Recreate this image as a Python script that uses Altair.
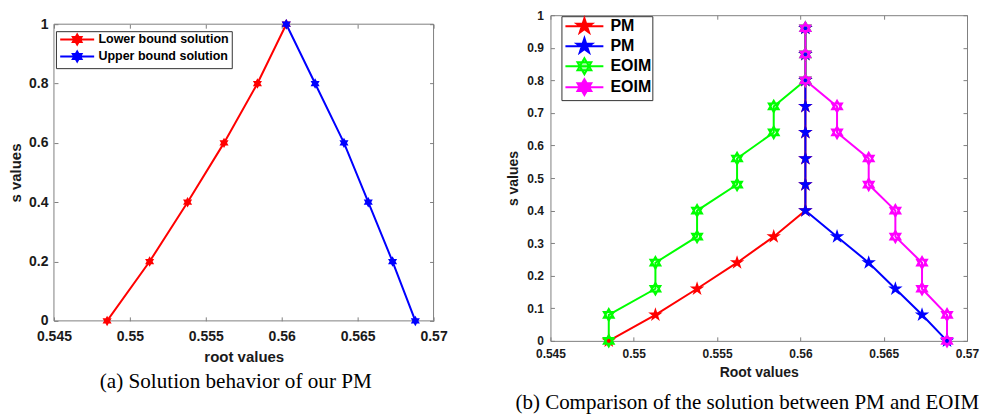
import altair as alt
import numpy as np
import pandas as pd

# ---------------- panel (a) data ----------------
a_series = ["Lower bound solution", "Upper bound solution"]
a_lower_root = [0.5485, 0.5513, 0.5538, 0.5562, 0.5584, 0.5603]
a_lower_s = [0.0, 0.2, 0.4, 0.6, 0.8, 1.0]
a_upper_root = [0.5603, 0.5622, 0.5641, 0.5657, 0.5673, 0.5688]
a_upper_s = [1.0, 0.8, 0.6, 0.4, 0.2, 0.0]

# ---------------- panel (b) data ----------------
b_series = ["PM lower", "PM upper", "EOIM lower", "EOIM upper"]
b_pm_lower_root = [0.5485, 0.5513, 0.5538, 0.5562, 0.5584, 0.5603, 0.5603,
                   0.5603, 0.5603, 0.5603, 0.5603, 0.5603, 0.5603]
b_pm_lower_s = [0.0, 0.08, 0.16, 0.24, 0.32, 0.40, 0.48, 0.56, 0.64, 0.72, 0.80, 0.88, 0.96]
b_pm_upper_root = [0.5603, 0.5603, 0.5603, 0.5603, 0.5603, 0.5603, 0.5603,
                   0.5603, 0.5622, 0.5641, 0.5657, 0.5673, 0.5688]
b_pm_upper_s = [0.96, 0.88, 0.80, 0.72, 0.64, 0.56, 0.48, 0.40, 0.32, 0.24, 0.16, 0.08, 0.0]
b_eoim_lower_root = [0.5485, 0.5485, 0.5513, 0.5513, 0.5538, 0.5538, 0.5562,
                     0.5562, 0.5584, 0.5584, 0.5603, 0.5603, 0.5603]
b_eoim_lower_s = [0.0, 0.08, 0.16, 0.24, 0.32, 0.40, 0.48, 0.56, 0.64, 0.72, 0.80, 0.88, 0.96]
b_eoim_upper_root = [0.5603, 0.5603, 0.5603, 0.5622, 0.5622, 0.5641, 0.5641,
                     0.5657, 0.5657, 0.5673, 0.5673, 0.5688, 0.5688]
b_eoim_upper_s = [0.96, 0.88, 0.80, 0.72, 0.64, 0.56, 0.48, 0.40, 0.32, 0.24, 0.16, 0.08, 0.0]

# ---------------- ticks / captions ----------------
x_ticks = [0.545, 0.55, 0.555, 0.56, 0.565, 0.57]
a_y_ticks = [0.0, 0.2, 0.4, 0.6, 0.8, 1.0]
b_y_ticks = [0.0, 0.1, 0.2, 0.3, 0.4, 0.5, 0.6, 0.7, 0.8, 0.9, 1.0]
a_caption = "(a) Solution behavior of our PM"
b_caption = "(b) Comparison of the solution between PM and EOIM"

# ---------------- styles ----------------
SANS = "Liberation Sans"
SERIF = "Liberation Serif"
FRAME = "#808080"
TXT = "#1a1a1a"
a_colors = ["#ff0000", "#0000ff"]
b_colors = ["#ff0000", "#0000ff", "#00ff00", "#ff00ff"]
b_fills = ["#ff0000", "#0000ff", "#a8ffa8", "#ff00ff"]


def pentagram():
    pts = []
    for k in range(10):
        r = 1.0 if k % 2 == 0 else 0.382
        a = -np.pi / 2 + k * np.pi / 5
        pts.append(f"{r * np.cos(a):.3f},{r * np.sin(a):.3f}")
    return "M" + "L".join(pts) + "Z"


PENT = pentagram()
HEX = "M0,-1L0.866,0.5L-0.866,0.5Z M0,1L-0.866,-0.5L0.866,-0.5Z"


def frame(series, roots, svals):
    rows = []
    for name, r, s in zip(series, roots, svals):
        for i, (xv, yv) in enumerate(zip(r, s)):
            rows.append({"series": name, "root": xv, "s": yv, "idx": i})
    return pd.DataFrame(rows)


a_df = frame(a_series, [a_lower_root, a_upper_root], [a_lower_s, a_upper_s])
b_df = frame(b_series,
             [b_pm_lower_root, b_pm_upper_root, b_eoim_lower_root, b_eoim_upper_root],
             [b_pm_lower_s, b_pm_upper_s, b_eoim_lower_s, b_eoim_upper_s])


def main_axes(title, yt, lsize, tsize, xlpad, xtpad, ylpad, ytpad, ytitle):
    ax = alt.Axis(orient="bottom", values=x_ticks, format=".3~f", title=title,
                  ticks=False, tickSize=0, domain=False, grid=False,
                  labelFont=SANS, labelFontSize=lsize, labelFontWeight="bold",
                  labelColor=TXT, labelPadding=xlpad, labelFlush=False, labelOverlap=False,
                  titleFont=SANS, titleFontSize=tsize, titleFontWeight="bold",
                  titleColor=TXT, titlePadding=xtpad)
    ay = alt.Axis(orient="left", values=yt, format=".1~f", title=ytitle,
                  ticks=False, tickSize=0, domain=False, grid=False,
                  labelFont=SANS, labelFontSize=lsize, labelFontWeight="bold",
                  labelColor=TXT, labelPadding=ylpad, labelFlush=False, labelOverlap=False,
                  titleFont=SANS, titleFontSize=tsize, titleFontWeight="bold",
                  titleColor=TXT, titlePadding=ytpad)
    return ax, ay


def tick_axes(xorient, yorient, xoff, yoff, yt):
    ax = alt.Axis(orient=xorient, offset=xoff, values=x_ticks, labels=False, title=None,
                  domain=False, grid=False, ticks=True, tickSize=4,
                  tickColor=FRAME, tickWidth=1)
    ay = alt.Axis(orient=yorient, offset=yoff, values=yt, labels=False, title=None,
                  domain=False, grid=False, ticks=True, tickSize=4,
                  tickColor=FRAME, tickWidth=1)
    return ax, ay


XS = alt.Scale(domain=[0.545, 0.57], nice=False, zero=False)

# ================= panel (a) =================
W1, H1, TOP1 = 380, 306, 9
YS_A = alt.Scale(domain=[0, 1], range=[H1, TOP1], nice=False, zero=False)
ax_m, ay_m = main_axes("root values", a_y_ticks, 14, 15, 9, 6, 6, 5, "s values")
ax_b, ay_b = tick_axes("top", "right", -H1, -W1, a_y_ticks)
ax_c, ay_c = tick_axes("bottom", "left", -(H1 - TOP1), -W1, a_y_ticks)
# line/marker colour scale (domain listed in reverse so it stays apart from the legend scales)
a_color = alt.Color("series:N", scale=alt.Scale(domain=a_series[::-1], range=a_colors[::-1]),
                    legend=None)

a_frame = alt.Chart(pd.DataFrame({"k": [0]})).mark_rect(
    fill="transparent", stroke=FRAME, strokeWidth=1
).encode(
    x=alt.datum(0.545, scale=XS, axis=None), x2=alt.datum(0.57),
    y=alt.datum(0, scale=YS_A, axis=None), y2=alt.datum(1),
)
a_lines = alt.Chart(a_df).mark_line(strokeWidth=2).encode(
    x=alt.X("root:Q", scale=XS, axis=ax_m),
    y=alt.Y("s:Q", scale=YS_A, axis=ay_m),
    color=a_color,
    order=alt.Order("idx:Q"),
)
a_points = alt.Chart(a_df).mark_point(filled=True, shape=HEX, size=110, opacity=1).encode(
    x=alt.X("root:Q", scale=XS, axis=ax_b),
    y=alt.Y("s:Q", scale=YS_A, axis=ay_b),
    color=a_color,
)
a_leg_df = pd.DataFrame({"series": a_series, "root": [0.54, 0.54], "s": [0.5, 0.5]})
a_leg_cfg = dict(orient="none", legendX=2, legendY=7 + TOP1, title=None, padding=2,
                 strokeColor="#333333", fillColor="white", cornerRadius=0,
                 labelFont=SANS, labelFontSize=12.5, labelFontWeight="bold",
                 labelColor="#000000", symbolSize=100, symbolStrokeWidth=2,
                 symbolOffset=13, labelOffset=15, rowPadding=-2)
A_LEG_SHAPE = "M-3.4,0L3.4,0 " + HEX
a_legend = alt.Chart(a_leg_df).mark_point(filled=True, clip=True, size=100,
                                          strokeWidth=2, opacity=1).encode(
    x=alt.X("root:Q", scale=XS, axis=ax_c),
    y=alt.Y("s:Q", scale=YS_A, axis=ay_c),
    fill=alt.Fill("series:N", scale=alt.Scale(domain=a_series, range=a_colors),
                  legend=alt.Legend(**a_leg_cfg)),
    stroke=alt.Stroke("series:N", scale=alt.Scale(domain=a_series, range=a_colors),
                      legend=alt.Legend(**a_leg_cfg)),
    shape=alt.Shape("series:N", scale=alt.Scale(domain=a_series,
                                                range=[A_LEG_SHAPE, A_LEG_SHAPE]),
                    legend=alt.Legend(**a_leg_cfg)),
)
a_cap = alt.Chart(pd.DataFrame({"caption": [a_caption]})).mark_text(
    font=SERIF, fontSize=21.2, color="#000000", align="center", baseline="middle"
).encode(x=alt.value(182), y=alt.value(358 + TOP1), text="caption:N")

left = alt.layer(a_frame, a_lines, a_points, a_legend, a_cap).resolve_axis(
    x="independent", y="independent"
).properties(width=W1, height=H1, view=alt.ViewBackground(stroke="transparent"))

# ================= panel (b) =================
W2, H2 = 417, 326
YS_B = alt.Scale(domain=[0, 1], nice=False, zero=False)
bx_m, by_m = main_axes("Root values", b_y_ticks, 12, 14, 8, 6, 7, 6, "s values")
bx_b, by_b = tick_axes("top", "right", -H2, -W2, b_y_ticks)
bx_c, by_c = tick_axes("bottom", "left", -H2, -W2, b_y_ticks)
b_color = alt.Color("series:N", scale=alt.Scale(domain=b_series[::-1], range=b_colors[::-1]),
                    legend=None)

b_lines = alt.Chart(b_df).mark_line(strokeWidth=2).encode(
    x=alt.X("root:Q", scale=XS, axis=bx_m),
    y=alt.Y("s:Q", scale=YS_B, axis=by_m),
    color=b_color,
    order=alt.Order("idx:Q"),
)
b_pm = alt.Chart(b_df[b_df["series"].str.startswith("PM")]).mark_point(
    filled=True, shape=PENT, size=230, opacity=1).encode(
    x=alt.X("root:Q", scale=XS, axis=bx_b),
    y=alt.Y("s:Q", scale=YS_B, axis=by_b),
    color=b_color,
)
b_eo = alt.Chart(b_df[b_df["series"].str.startswith("EOIM")]).mark_point(
    filled=False, shape=HEX, size=130, strokeWidth=2, opacity=1).encode(
    x=alt.X("root:Q", scale=XS, axis=bx_c),
    y=alt.Y("s:Q", scale=YS_B, axis=by_c),
    color=b_color,
)
b_leg_df = pd.DataFrame({"series": b_series, "root": [0.54] * 4, "s": [0.5] * 4})
b_leg_cfg = dict(orient="none", legendX=11, legendY=1, title=None, padding=1,
                 strokeColor="#333333", fillColor="white", cornerRadius=0,
                 labelFont=SANS, labelFontSize=16, labelFontWeight="bold",
                 labelColor="#000000", symbolSize=256, symbolStrokeWidth=2,
                 symbolOffset=13, labelOffset=17, rowPadding=-4.3,
                 labelExpr="split(datum.label, ' ')[0]")
LP = "M-2.375,0L2.375,0 " + PENT
LH = "M-2.375,0L2.375,0 " + HEX
b_legend = alt.Chart(b_leg_df).mark_point(filled=True, clip=True, size=256,
                                          strokeWidth=2, opacity=1).encode(
    x=alt.X("root:Q", scale=XS, axis=None),
    y=alt.Y("s:Q", scale=YS_B, axis=None),
    fill=alt.Fill("series:N", scale=alt.Scale(domain=b_series, range=b_fills),
                  legend=alt.Legend(**b_leg_cfg)),
    stroke=alt.Stroke("series:N", scale=alt.Scale(domain=b_series, range=b_colors),
                      legend=alt.Legend(**b_leg_cfg)),
    shape=alt.Shape("series:N", scale=alt.Scale(domain=b_series, range=[LP, LP, LH, LH]),
                    legend=alt.Legend(**b_leg_cfg)),
)
b_cap = alt.Chart(pd.DataFrame({"caption": [b_caption]})).mark_text(
    font=SERIF, fontSize=21, color="#000000", align="center", baseline="middle"
).encode(x=alt.value(197), y=alt.value(388), text="caption:N")

right = alt.layer(b_lines, b_pm, b_eo, b_legend, b_cap).resolve_axis(
    x="independent", y="independent"
).properties(width=W2, height=H2, view=alt.ViewBackground(stroke=FRAME, strokeWidth=1))

chart = alt.hconcat(left, right, spacing=57).resolve_scale(
    color="independent", fill="independent", stroke="independent", shape="independent"
).resolve_legend(
    color="independent", fill="independent", stroke="independent", shape="independent"
).properties(
    padding={"left": 0, "top": 0, "right": 0, "bottom": 0}
)

chart.save("out.html", embed_options={"renderer": "svg", "actions": False})
